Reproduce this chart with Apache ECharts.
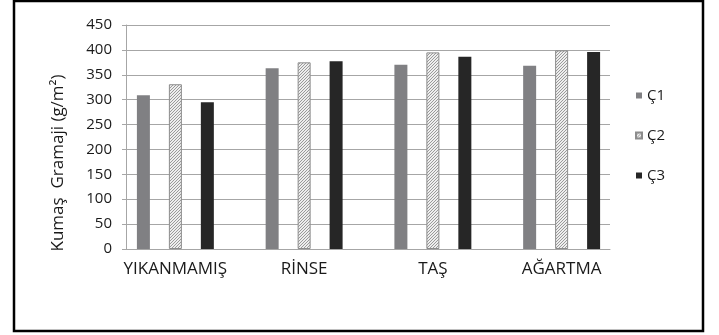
<!DOCTYPE html>
<html>
<head>
<meta charset="utf-8">
<script src="https://cdn.jsdelivr.net/npm/echarts@6/dist/echarts.min.js"></script>
<style>
html,body{margin:0;padding:0;background:#fff;}
#c{width:719px;height:335px;}
</style>
</head>
<body>
<div id="c"></div>
<script>
var categories = ['YIKANMAMIŞ', 'RİNSE', 'TAŞ', 'AĞARTMA'];
var seriesNames = ['Ç1', 'Ç2', 'Ç3'];
var c1 = [309, 363, 370, 368];
var c2 = [331, 375, 395, 399];
var c3 = [295, 377, 386, 396];
var yTitle = 'Kumaş  Gramaji (g/m²)';

function hatch() {
  var cv = document.createElement('canvas');
  cv.width = 3; cv.height = 3;
  var g = cv.getContext('2d');
  g.fillStyle = '#eeeeee';
  g.fillRect(0, 0, 3, 3);
  g.fillStyle = '#9a9a9a';
  g.fillRect(2, 0, 1, 1);
  g.fillRect(1, 1, 1, 1);
  g.fillRect(0, 2, 1, 1);
  return {image: cv, repeat: 'repeat'};
}

var font = '"Open Sans", "DejaVu Sans", sans-serif';
var chart = echarts.init(document.getElementById('c'), null, {renderer: 'canvas'});
chart.setOption({
  animation: false,
  backgroundColor: '#ffffff',
  textStyle: {fontFamily: font, color: '#1a1a1a'},
  grid: [
    {left: 126, right: 109, top: 25, bottom: 86},
    {left: 111, right: 93, top: 25, bottom: 86}
  ],
  xAxis: [
    {gridIndex: 0, type: 'category', data: categories,
     axisLine: {show: true, lineStyle: {color: '#a6a6a6', width: 1}},
     axisTick: {show: false}, axisLabel: {show: false}},
    {gridIndex: 1, type: 'category', data: categories,
     axisLine: {show: false}, axisTick: {show: false},
     axisLabel: {fontSize: 17, color: '#1a1a1a', margin: 12, fontFamily: font,
                 interval: 0, hideOverlap: false}}
  ],
  yAxis: [
    {gridIndex: 0, type: 'value', min: 0, max: 450, interval: 50,
     axisLine: {show: true, lineStyle: {color: '#a6a6a6', width: 1}},
     axisTick: {show: true, length: 4, lineStyle: {color: '#a6a6a6'}},
     splitLine: {show: true, lineStyle: {color: '#a6a6a6', width: 1}},
     axisLabel: {fontSize: 15, color: '#1a1a1a', margin: 14, fontFamily: font}},
    {gridIndex: 1, type: 'value', min: 0, max: 450, interval: 50, show: false,
     splitLine: {show: false}}
  ],
  legend: {
    orient: 'vertical', left: 630, top: 83,
    itemWidth: 6, itemHeight: 6, itemGap: 25,
    icon: 'rect',
    textStyle: {fontSize: 15, color: '#1a1a1a', fontFamily: font},
    data: seriesNames
  },
  series: [
    {name: seriesNames[0], type: 'bar', xAxisIndex: 1, yAxisIndex: 1, data: c1,
     barWidth: 13, barGap: '146%', itemStyle: {color: '#808083'}},
    {name: seriesNames[1], type: 'bar', xAxisIndex: 1, yAxisIndex: 1, data: c2,
     barWidth: 13, barGap: '146%', itemStyle: {color: hatch(), borderColor: '#8c8c8c', borderWidth: 1}},
    {name: seriesNames[2], type: 'bar', xAxisIndex: 1, yAxisIndex: 1, data: c3,
     barWidth: 13, barGap: '146%', itemStyle: {color: '#262626'}}
  ],
  graphic: [
    {type: 'rect', shape: {x: 14, y: 1, width: 689, height: 330},
     style: {fill: null, stroke: '#000', lineWidth: 2.5}, z: 100},
    {type: 'text', x: 58, y: 163, rotation: Math.PI / 2,
     style: {text: yTitle, fontSize: 17, fontFamily: font, fill: '#1a1a1a',
             align: 'center', verticalAlign: 'middle'}}
  ]
});
</script>
</body>
</html>
